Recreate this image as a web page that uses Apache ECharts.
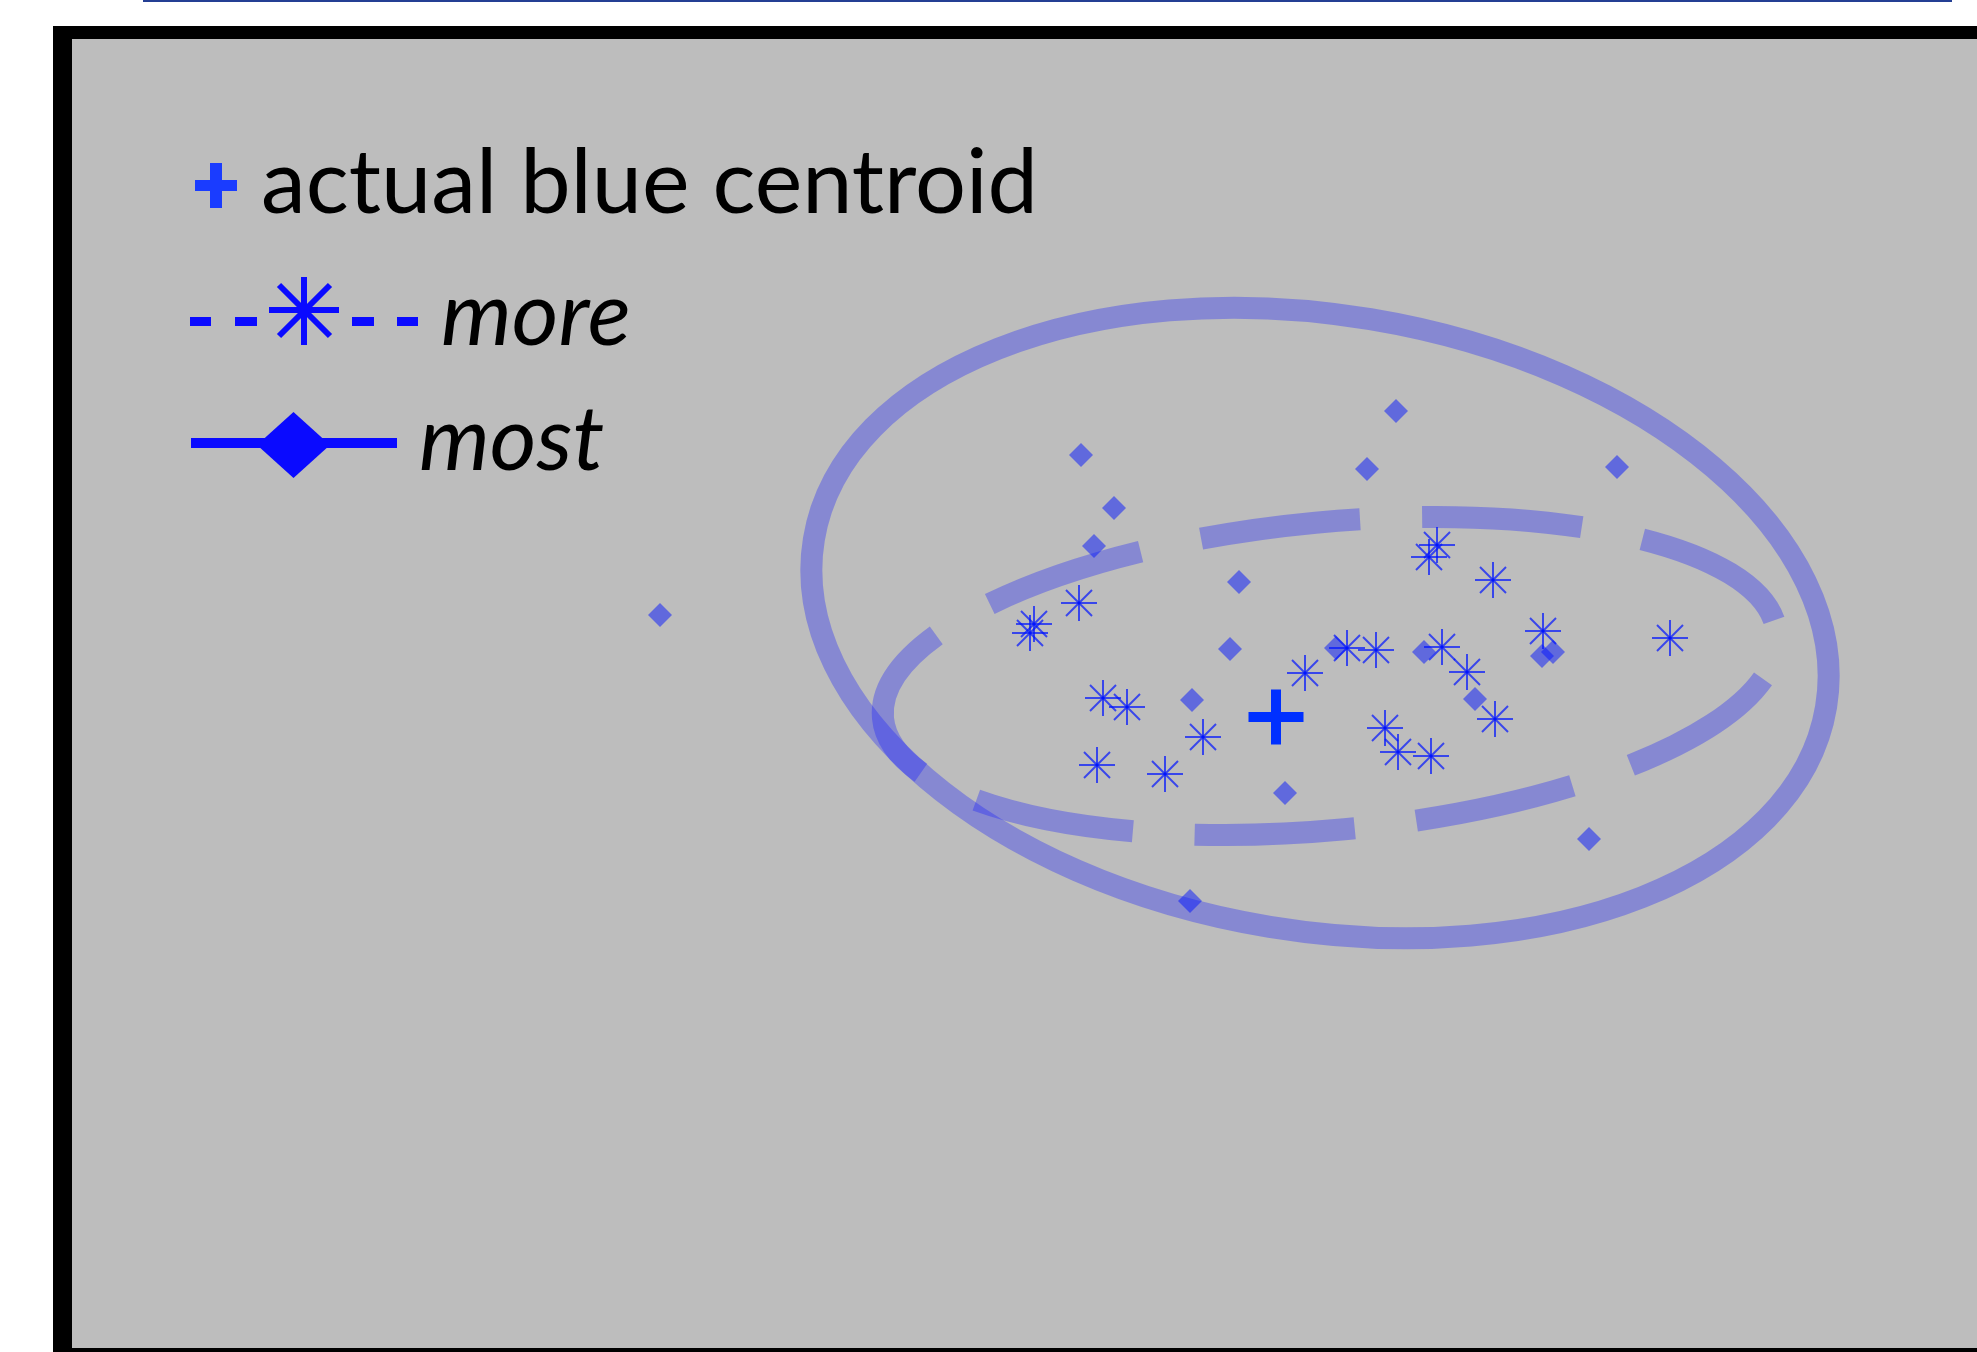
<!DOCTYPE html>
<html>
<head>
<meta charset="utf-8">
<script src="https://cdn.jsdelivr.net/npm/echarts@6/dist/echarts.min.js"></script>
<style>
  html, body { margin: 0; padding: 0; background: #fff; }
  #chart { width: 1977px; height: 1352px; }
</style>
</head>
<body>
<div id="chart"></div>
<script>
// plot units: x runs 0..1977 to the right, y runs 0..1352 downwards
const mostX = [660, 1081, 1114, 1094, 1396, 1367, 1617, 1239, 1230, 1192, 1336, 1424, 1475, 1542, 1553, 1285, 1589, 1190]
const mostY = [615, 455, 508, 546, 411, 469, 467, 582, 649, 700, 648, 652, 699, 656, 652, 793, 839, 901]

const moreX = [1079, 1034, 1030, 1103, 1127, 1203, 1097, 1165, 1305, 1347, 1376, 1442, 1467, 1385, 1398, 1431, 1437, 1429, 1493, 1543, 1670, 1495]
const moreY = [603, 624, 633, 698, 707, 737, 765, 774, 673, 648, 650, 647, 672, 728, 752, 756, 545, 557, 580, 631, 638, 719]

const centroid = [1276, 717]

// ellipses: centre x, centre y, semi-axis along, semi-axis across, tilt (deg, anticlockwise)
const ellipseMost = [1320, 623, 513, 308, -9.4]
const ellipseMore = [1330, 676, 449, 154, 5.4]

const legendLabels = ['actual blue centroid', 'more', 'most']

const ellipseColor = 'rgba(19,26,255,0.32)'
const mostColor = 'rgba(0,18,255,0.61)'
const moreColor = 'rgba(0,20,255,0.7)'
const centroidColor = '#0030ff'
const legendBlue = '#0a0aff'

const chart = echarts.init(document.getElementById('chart'), null, { renderer: 'canvas' })

function ellipseItem(dash, offset) {
    return function (params, api) {
        const c = api.coord([api.value(0), api.value(1)])
        const s = api.size([api.value(2), api.value(3)], [api.value(0), api.value(1)])
        return {
            type: 'ellipse',
            x: c[0],
            y: c[1],
            rotation: (api.value(4) * Math.PI) / 180,
            shape: { cx: 0, cy: 0, rx: s[0], ry: s[1] },
            style: {
                fill: null,
                stroke: ellipseColor,
                lineWidth: 22,
                lineDash: dash,
                lineDashOffset: offset,
            },
        }
    }
}

function asteriskItem(params, api) {
    const p = api.coord([api.value(0), api.value(1)])
    const r = 18
    const d = 13
    const seg = (x1, y1, x2, y2) => ({
        type: 'line',
        shape: { x1: p[0] + x1, y1: p[1] + y1, x2: p[0] + x2, y2: p[1] + y2 },
        style: { stroke: moreColor, lineWidth: 2 },
    })
    return {
        type: 'group',
        children: [seg(0, -r, 0, r), seg(-r, 0, r, 0), seg(-d, -d, d, d), seg(-d, d, d, -d)],
    }
}

const plusPath = 'path://M22.5,0h10v22.5h22.5v10h-22.5v22.5h-10v-22.5h-22.5v-10h22.5z'

// legend drawn by hand (icons differ per row)
const legendFont = '90px Lato'
const legendItalic = 'italic 90px Lato'
const legend = [
    // row 1: centroid plus
    { type: 'rect', shape: { x: 195, y: 180, width: 42, height: 11 }, style: { fill: '#1a3cff' }, z: 10 },
    { type: 'rect', shape: { x: 210, y: 163, width: 12, height: 45 }, style: { fill: '#1a3cff' }, z: 10 },
    { type: 'text', x: 261, y: 184, style: { text: legendLabels[0], font: legendFont, fill: '#000', verticalAlign: 'middle' }, z: 10 },
    // row 2: dashed line with asterisk
    { type: 'rect', shape: { x: 190, y: 317, width: 21, height: 9 }, style: { fill: legendBlue }, z: 10 },
    { type: 'rect', shape: { x: 235, y: 317, width: 22, height: 9 }, style: { fill: legendBlue }, z: 10 },
    { type: 'rect', shape: { x: 352, y: 317, width: 22, height: 9 }, style: { fill: legendBlue }, z: 10 },
    { type: 'rect', shape: { x: 397, y: 317, width: 21, height: 9 }, style: { fill: legendBlue }, z: 10 },
    { type: 'line', shape: { x1: 304, y1: 277, x2: 304, y2: 345 }, style: { stroke: legendBlue, lineWidth: 6 }, z: 10 },
    { type: 'line', shape: { x1: 269, y1: 310, x2: 339, y2: 310 }, style: { stroke: legendBlue, lineWidth: 6 }, z: 10 },
    { type: 'line', shape: { x1: 279, y1: 285, x2: 330, y2: 336 }, style: { stroke: legendBlue, lineWidth: 6 }, z: 10 },
    { type: 'line', shape: { x1: 279, y1: 336, x2: 330, y2: 285 }, style: { stroke: legendBlue, lineWidth: 6 }, z: 10 },
    { type: 'text', x: 441, y: 316, style: { text: legendLabels[1], font: legendItalic, fill: '#000', verticalAlign: 'middle' }, z: 10 },
    // row 3: solid line with diamond
    { type: 'rect', shape: { x: 191, y: 438, width: 206, height: 10 }, style: { fill: legendBlue }, z: 10 },
    { type: 'polygon', shape: { points: [[257, 445], [293.5, 412], [330, 445], [293.5, 478]] }, style: { fill: legendBlue }, z: 10 },
    { type: 'text', x: 419, y: 441, style: { text: legendLabels[2], font: legendItalic, fill: '#000', verticalAlign: 'middle' }, z: 10 },
]

const option = {
    animation: false,
    backgroundColor: '#fff',
    grid: { left: 0, right: 0, top: 0, bottom: 0 },
    xAxis: { type: 'value', min: 0, max: 1977, show: false },
    yAxis: { type: 'value', min: 0, max: 1352, inverse: true, show: false },
    graphic: [
        { type: 'rect', shape: { x: 143, y: 0, width: 1809, height: 2 }, style: { fill: '#243f94' }, z: 0 },
        { type: 'rect', shape: { x: 53, y: 26, width: 2000, height: 1400 }, style: { fill: '#000' }, z: 0 },
        { type: 'rect', shape: { x: 72, y: 39, width: 2000, height: 1309 }, style: { fill: '#bdbdbd' }, z: 0 },
        ...legend,
    ],
    series: [
        {
            name: 'most ellipse',
            type: 'custom',
            silent: true,
            renderItem: ellipseItem(null, 0),
            data: [ellipseMost],
        },
        {
            name: 'more ellipse',
            type: 'custom',
            silent: true,
            renderItem: ellipseItem([160, 62], 57),
            data: [ellipseMore],
        },
        {
            name: legendLabels[2],
            type: 'scatter',
            silent: true,
            symbol: 'diamond',
            symbolSize: 24,
            itemStyle: { color: mostColor },
            data: mostX.map((x, i) => [x, mostY[i]]),
        },
        {
            name: legendLabels[1],
            type: 'custom',
            silent: true,
            renderItem: asteriskItem,
            data: moreX.map((x, i) => [x, moreY[i]]),
        },
        {
            name: legendLabels[0],
            type: 'scatter',
            silent: true,
            symbol: plusPath,
            symbolSize: 55,
            itemStyle: { color: centroidColor, opacity: 1 },
            data: [centroid],
        },
    ],
}

chart.setOption(option)
</script>
</body>
</html>
